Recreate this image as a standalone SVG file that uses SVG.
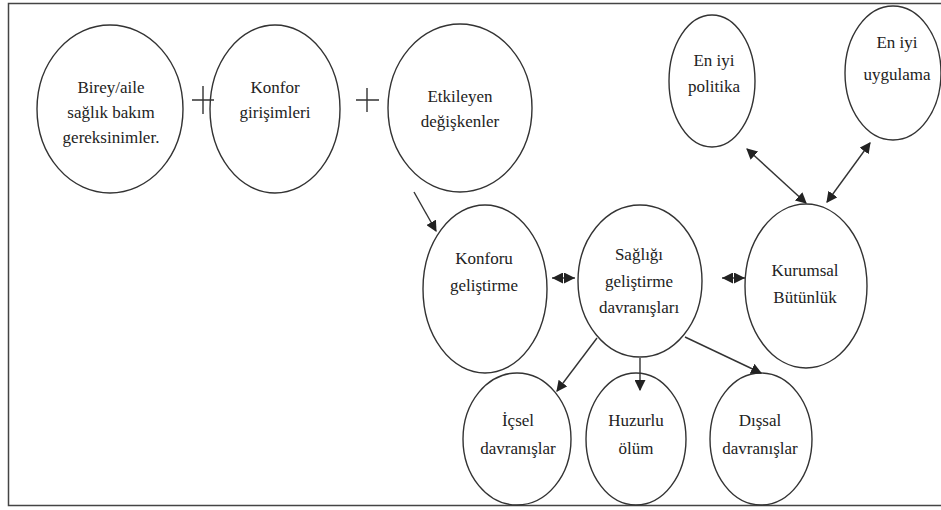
<svg xmlns="http://www.w3.org/2000/svg" width="941" height="510" viewBox="0 0 941 510">
<style>
.n{fill:none;stroke:#333;stroke-width:1.4}
.t{font-family:'Liberation Serif','DejaVu Serif',serif;font-size:17px;fill:#222;text-anchor:middle}
.c{stroke:#333;stroke-width:1.4;fill:none}
</style>
<defs>
<marker id="ah" viewBox="0 0 10 10" refX="10" refY="5" markerWidth="11" markerHeight="11" markerUnits="userSpaceOnUse" orient="auto-start-reverse"><path d="M0,0L10,5L0,10z" fill="#222"/></marker>
<marker id="ah2" viewBox="0 0 10 10" refX="9" refY="5" markerWidth="11" markerHeight="11" markerUnits="userSpaceOnUse" orient="auto-start-reverse"><path d="M0,0L10,5L0,10z" fill="#222"/></marker>
</defs>
<rect width="941" height="510" fill="#fff"/>
<path d="M941,3.5H8.5V505.5H941" fill="none" stroke="#444" stroke-width="1.5"/>
<g id="birey"><ellipse class="n" cx="110" cy="109" rx="73" ry="84"/><text class="t" x="111" y="93">Birey/aile</text><text class="t" x="111" y="118">sağlık bakım</text><text class="t" x="111" y="143">gereksinimler.</text></g>
<g id="konfor"><ellipse class="n" cx="275" cy="109" rx="65" ry="84"/><text class="t" x="275" y="93">Konfor</text><text class="t" x="275" y="118">girişimleri</text></g>
<g id="etkileyen"><ellipse class="n" cx="460" cy="108" rx="72" ry="84"/><text class="t" x="460" y="102">Etkileyen</text><text class="t" x="460" y="127">değişkenler</text></g>
<g id="politika"><ellipse class="n" cx="712" cy="81" rx="43" ry="66"/><text class="t" x="714" y="66">En iyi</text><text class="t" x="714" y="92">politika</text></g>
<g id="uygulama"><ellipse class="n" cx="893" cy="73" rx="48" ry="67"/><text class="t" x="897" y="48">En iyi</text><text class="t" x="897" y="80">uygulama</text></g>
<g id="konforu"><ellipse class="n" cx="485" cy="289" rx="62" ry="84"/><text class="t" x="484" y="264">Konforu</text><text class="t" x="484" y="291">geliştirme</text></g>
<g id="sagligi"><ellipse class="n" cx="640" cy="281" rx="62" ry="76"/><text class="t" x="639" y="260">Sağlığı</text><text class="t" x="639" y="287">geliştirme</text><text class="t" x="639" y="313">davranışları</text></g>
<g id="kurumsal"><ellipse class="n" cx="806" cy="286" rx="61" ry="82"/><text class="t" x="805" y="276">Kurumsal</text><text class="t" x="805" y="303">Bütünlük</text></g>
<g id="icsel"><ellipse class="n" cx="517" cy="439" rx="54" ry="66"/><text class="t" x="518" y="426">İçsel</text><text class="t" x="518" y="454">davranışlar</text></g>
<g id="huzurlu"><ellipse class="n" cx="636" cy="439" rx="50" ry="66"/><text class="t" x="636" y="426">Huzurlu</text><text class="t" x="636" y="454">ölüm</text></g>
<g id="dissal"><ellipse class="n" cx="761" cy="439" rx="51" ry="66"/><text class="t" x="760" y="426">Dışsal</text><text class="t" x="760" y="454">davranışlar</text></g>
<g id="connectors">
<path class="c" d="M192,100H214M203,86V114"/>
<path class="c" d="M356,100H379M367,88V112"/>
<line class="c" x1="414" y1="192" x2="436" y2="231" marker-end="url(#ah2)"/>
<line class="c" x1="552" y1="278" x2="575" y2="278" marker-start="url(#ah)" marker-end="url(#ah)"/>
<line class="c" x1="722" y1="278" x2="745" y2="278" marker-start="url(#ah)" marker-end="url(#ah)"/>
<line class="c" x1="747" y1="149" x2="806" y2="203" marker-start="url(#ah2)" marker-end="url(#ah2)"/>
<line class="c" x1="870" y1="143" x2="827" y2="202" marker-start="url(#ah2)" marker-end="url(#ah2)"/>
<line class="c" x1="597" y1="338" x2="557" y2="391" marker-end="url(#ah2)"/>
<line class="c" x1="640" y1="358" x2="640" y2="390" marker-end="url(#ah2)"/>
<line class="c" x1="685" y1="337" x2="761" y2="373" marker-end="url(#ah2)"/>
</g>
</svg>
